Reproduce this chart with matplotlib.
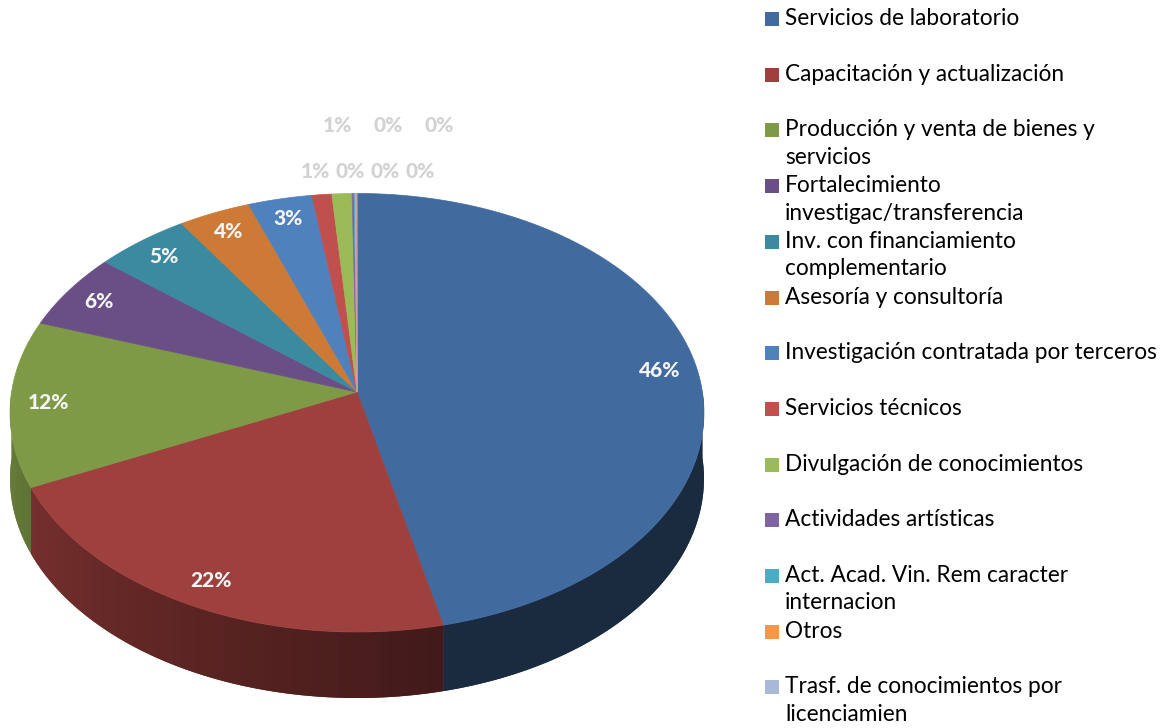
import numpy as np
import matplotlib.pyplot as plt
from matplotlib.patches import Polygon, Rectangle
from matplotlib.colors import to_rgb

plt.rcParams['font.family'] = ['Lato', 'DejaVu Sans']

categorias = [
    "Servicios de laboratorio",
    "Capacitación y actualización",
    "Producción y venta de bienes y\nservicios",
    "Fortalecimiento\ninvestigac/transferencia",
    "Inv. con financiamiento\ncomplementario",
    "Asesoría y consultoría",
    "Investigación contratada por terceros",
    "Servicios técnicos",
    "Divulgación de conocimientos",
    "Actividades artísticas",
    "Act. Acad. Vin. Rem caracter\ninternacion",
    "Otros",
    "Trasf. de conocimientos por\nlicenciamien",
]
# shares; the last one has no legend entry in the original
valores = [46.36, 21.70, 12.24, 5.63, 4.84, 3.68, 3.27, 1.01, 1.02, 0.10, 0.06, 0.02, 0.06, 0.01]
colores = ['#416A9E', '#9E403D', '#7F9A47', '#6A4F86', '#3B8AA0', '#CC7A35',
           '#4F81BD', '#C0504D', '#9BBB59', '#8064A2', '#4BACC6', '#F79646',
           '#A9B8D8', '#DA9694']

W, H = 1163, 728
fig = plt.figure(figsize=(W / 100, H / 100), dpi=100)
ax = fig.add_axes([0, 0, 1, 1])
ax.set_xlim(0, W)
ax.set_ylim(H, 0)
ax.axis('off')

# 3d pie geometry in pixels, simple perspective
cx, cy = 357, 392
A, B, p = 345.4, 217.3, 0.0946
depth = 66


def punto(ang, f=1.0):
    a = np.radians(ang)
    u, v = f * np.cos(a), f * np.sin(a)
    s = 1 / (1 + p * v)
    return cx + A * u * s, cy - B * v * s


def sombra(t):
    return 0.41 + 0.42 * np.clip((-76 - t) / 98.6, 0, 1)


vals = np.array(valores)
total = vals.sum()
pct = vals / total * 100
cum = np.concatenate([[0], np.cumsum(vals)]) / total
angs = 90 - 360 * cum

thL, thR = -180 + np.degrees(np.arcsin(p)), -np.degrees(np.arcsin(p))
th_ref = np.linspace(thL, thR, 3000)
x_ref, _ = punto(th_ref)

# side wall (front half only)
for i in range(len(vals)):
    a0, a1 = angs[i], angs[i + 1]
    lo, hi = max(a1, -180), min(a0, 0)
    if hi <= lo:
        continue
    ts = np.linspace(lo, hi, max(3, int((hi - lo) * 3)))
    xt, yt = punto(ts)
    pts = np.column_stack([np.concatenate([xt, xt[::-1]]),
                           np.concatenate([yt, yt[::-1] + depth])])
    base = np.array(to_rgb(colores[i]))
    tm = np.clip((lo + hi) / 2, thL, thR)
    poly = Polygon(pts, closed=True, fc=base * sombra(tm), ec='none')
    ax.add_patch(poly)
    x0, x1 = pts[:, 0].min(), pts[:, 0].max()
    y0, y1 = pts[:, 1].min(), pts[:, 1].max()
    ncol = max(2, int(x1 - x0) + 2)
    xc = np.linspace(x0, x1, ncol)
    tc = np.interp(xc, x_ref, th_ref)
    img = (base[None, :] * sombra(tc)[:, None])[None, :, :]
    im = ax.imshow(img, extent=[x0, x1, y1, y0], interpolation='bilinear',
                   aspect='auto', zorder=1)
    im.set_clip_path(poly)

# top face
for i in range(len(vals)):
    a0, a1 = angs[i], angs[i + 1]
    ts = np.linspace(a0, a1, max(3, int((a0 - a1) * 3)))
    xs, ys = punto(ts)
    pts = np.column_stack([np.concatenate([[cx], xs]), np.concatenate([[cy], ys])])
    ax.add_patch(Polygon(pts, closed=True, fc=colores[i], ec=colores[i], lw=0.5, zorder=2))

# data labels
k = 0
for i in range(len(vals)):
    txt = f"{pct[i]:.0f}%"
    if pct[i] >= 2:
        mid = (angs[i] + angs[i + 1]) / 2
        lx, ly = punto(mid, 0.89)
        ax.text(lx, ly, txt, color='#F5F5F5', fontsize=15, fontweight='black',
                ha='center', va='center', zorder=3)
    else:
        if k % 2 == 0:
            lx, ly = cx - 42 + 35 * (k // 2), 171
        else:
            lx, ly = cx - 20 + 51 * (k // 2), 126
        ax.text(lx, ly, txt, color='#D2D2D2', fontsize=15, fontweight='black',
                ha='center', va='center', zorder=3)
        k += 1

# legend
paso = 55.7
for j, nombre in enumerate(categorias):
    yc = 19 + j * paso
    ax.add_patch(Rectangle((765, yc - 7), 14, 14, fc=colores[j], ec='none'))
    ax.text(785, yc - 11, nombre, fontsize=16.3, color='black', ha='left', va='top',
            linespacing=1.38)

fig.savefig('out.png', dpi=100)
